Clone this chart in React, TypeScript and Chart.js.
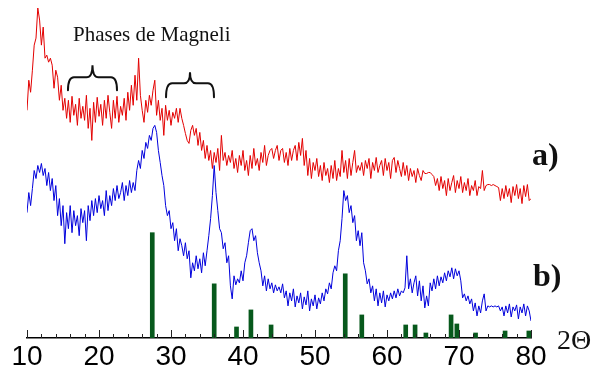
import React, { useEffect, useRef } from 'react';
import { Chart, registerables } from 'chart.js';

Chart.register(...registerables);

// Scan grid (2θ, degrees)
const scanStart = 10;
const scanStep = 0.25;

// a) red pattern, arbitrary intensity units (one value per scan step)
const intensityA = [
  227, 257, 245, 267, 292, 299, 329, 317, 292, 310, 279, 282, 275, 279, 272, 249, 267, 260, 237, 252,
  227, 239, 219, 237, 215, 241, 222, 233, 212, 239, 219, 231, 217, 242, 209, 229, 197, 235, 215, 240,
  221, 233, 212, 237, 219, 242, 225, 209, 237, 219, 241, 215, 231, 222, 239, 217, 245, 227, 252, 232,
  262, 237, 279, 242, 227, 215, 237, 225, 242, 232, 247, 257, 222, 237, 217, 229, 202, 232, 217, 227,
  212, 225, 219, 229, 215, 229, 219, 212, 204, 197, 194, 207, 212, 202, 209, 192, 205, 187, 197, 179,
  192, 177, 187, 169, 185, 175, 189, 167, 202, 177, 185, 172, 182, 175, 187, 169, 179, 165, 182, 172,
  187, 167, 177, 162, 182, 169, 189, 172, 179, 167, 185, 175, 192, 172, 182, 187, 189, 179, 187, 192,
  177, 187, 189, 175, 185, 172, 189, 177, 187, 192, 177, 195, 182, 199, 172, 187, 162, 179, 159, 175,
  167, 179, 161, 172, 157, 175, 162, 169, 155, 172, 159, 177, 157, 169, 161, 187, 165, 177, 159, 179,
  162, 175, 187, 165, 172, 167, 175, 162, 177, 169, 179, 159, 175, 167, 180, 165, 172, 177, 162, 179,
  167, 175, 159, 177, 180, 165, 177, 169, 161, 175, 162, 172, 157, 169, 161, 167, 155, 169, 162, 157,
  167, 164, 164, 165, 165, 163, 161, 152, 159, 147, 161, 149, 157, 142, 159, 147, 155, 162, 145, 157,
  149, 161, 145, 155, 147, 159, 142, 152, 147, 157, 142, 151, 149, 167, 147, 152, 153, 153, 152, 153,
  152, 151, 150, 137, 149, 139, 152, 141, 149, 135, 151, 142, 153, 139, 149, 134, 152, 141, 153, 137,
  139,
];

// b) blue pattern
const intensityB = [
  125, 145, 132, 149, 167, 159, 172, 165, 174, 162, 169, 152, 165, 147, 159, 137, 152, 122, 139, 112,
  132, 94, 125, 109, 132, 105, 127, 112, 122, 102, 129, 115, 127, 97, 132, 117, 137, 122, 139, 125,
  142, 129, 137, 122, 147, 127, 142, 132, 149, 137, 152, 139, 145, 155, 137, 152, 142, 157, 145, 155,
  147, 167, 177, 169, 187, 179, 195, 189, 202, 197, 209, 212, 205, 187, 175, 162, 152, 132, 122, 127,
  109, 115, 97, 109, 87, 99, 92, 82, 95, 79, 87, 60, 75, 67, 82, 69, 79, 65, 85, 72,
  87, 102, 119, 142, 172, 145, 127, 109, 105, 89, 95, 75, 82, 52, 39, 62, 53, 59, 55, 67,
  57, 75, 82, 95, 107, 109, 97, 102, 85, 75, 67, 52, 62, 47, 59, 49, 55, 45, 53, 47,
  51, 45, 54, 40, 47, 32, 45, 37, 49, 31, 42, 35, 45, 29, 41, 33, 47, 27, 39, 32,
  43, 29, 40, 34, 45, 37, 49, 44, 55, 49, 65, 72, 67, 87, 97, 119, 147, 137, 142, 125,
  132, 115, 122, 97, 107, 92, 105, 75, 67, 54, 59, 45, 52, 37, 49, 32, 45, 35, 47, 31,
  43, 37, 45, 39, 47, 40, 49, 42, 47, 45, 50, 82, 49, 59, 45, 55, 62, 42, 57, 37,
  52, 30, 42, 32, 55, 47, 59, 49, 62, 52, 61, 55, 65, 57, 67, 61, 70, 59, 69, 62,
  67, 57, 40, 44, 37, 42, 34, 39, 27, 35, 22, 32, 25, 37, 44, 27, 32, 31, 32, 31,
  32, 31, 32, 27, 31, 22, 32, 25, 34, 21, 31, 27, 33, 19, 31, 25, 34, 22, 32, 27,
  17,
];

// Reference (green) peak positions and relative heights
const refPeaks = [27.4, 36.0, 39.1, 41.1, 43.9, 54.2, 56.5, 62.6, 63.9, 65.4, 68.9, 69.7, 72.3, 76.4, 79.7];
const refHeights = [105, 54, 11, 28, 13, 64, 23, 13, 13, 5, 23, 14, 5, 7, 7];

// Axis
const xMin = 10;
const xMax = 80;
const yMax = 337;
const majorTicks = [10, 20, 30, 40, 50, 60, 70, 80];
const minorStep = 2;

// Annotations
const annotTitle = 'Phases de Magneli';
const labelA = 'a)';
const labelB = 'b)';
const axisTitle = '2\u0398';
const braces = [
  { from: 15.69, to: 22.5, end: 247, bar: 260, tip: 272 },
  { from: 29.31, to: 35.97, end: 240, bar: 254, tip: 265 },
];

const SERIF = '"Liberation Serif", "Times New Roman", Times, serif';
const SANS = '"Liberation Sans", Arial, Helvetica, sans-serif';

const decorPlugin = {
  id: 'decor',
  afterDraw(chart: any) {
    const { ctx, chartArea } = chart;
    const x = chart.scales.x;
    const y = chart.scales.y;
    ctx.save();
    // inward tick marks
    ctx.strokeStyle = '#222';
    ctx.lineWidth = 1;
    for (let v = xMin; v <= xMax + 1e-9; v += minorStep) {
      const px = Math.round(x.getPixelForValue(v)) + 0.5;
      const len = Math.abs(v % 10) < 1e-9 ? 8 : 4;
      ctx.beginPath();
      ctx.moveTo(px, chartArea.bottom);
      ctx.lineTo(px, chartArea.bottom - len);
      ctx.stroke();
    }
    // braces
    ctx.strokeStyle = '#111';
    ctx.lineWidth = 2;
    ctx.lineCap = 'round';
    for (const b of braces) {
      const xl = x.getPixelForValue(b.from);
      const xr = x.getPixelForValue(b.to);
      const xm = (xl + xr) / 2;
      const ye = y.getPixelForValue(b.end);
      const yb = y.getPixelForValue(b.bar);
      const yt = y.getPixelForValue(b.tip);
      const r = 6;
      ctx.beginPath();
      ctx.moveTo(xl, ye);
      ctx.quadraticCurveTo(xl, yb, xl + r, yb);
      ctx.lineTo(xm - r, yb);
      ctx.quadraticCurveTo(xm, yb, xm, yt);
      ctx.quadraticCurveTo(xm, yb, xm + r, yb);
      ctx.lineTo(xr - r, yb);
      ctx.quadraticCurveTo(xr, yb, xr, ye);
      ctx.stroke();
    }
    // texts
    ctx.fillStyle = '#111';
    ctx.textBaseline = 'alphabetic';
    ctx.textAlign = 'left';
    ctx.font = `21px ${SERIF}`;
    ctx.fillText(annotTitle, x.getPixelForValue(16.39), y.getPixelForValue(296));
    ctx.font = `bold 32px ${SERIF}`;
    ctx.fillText(labelA, x.getPixelForValue(80.14), y.getPixelForValue(172));
    ctx.fillText(labelB, x.getPixelForValue(80.28), y.getPixelForValue(52));
    ctx.font = `28px ${SERIF}`;
    ctx.fillText(axisTitle, x.getPixelForValue(83.6), y.getPixelForValue(-11));
    ctx.restore();
  },
};

export default function App() {
  const ref = useRef<HTMLCanvasElement | null>(null);

  useEffect(() => {
    if (!ref.current) return;
    const ptsA = intensityA.map((v, i) => ({ x: scanStart + i * scanStep, y: v }));
    const ptsB = intensityB.map((v, i) => ({ x: scanStart + i * scanStep, y: v }));
    const bars = refPeaks.map((p, i) => ({ x: p, y: refHeights[i] }));

    const chart = new Chart(ref.current, {
      type: 'line',
      data: {
        datasets: [
          {
            type: 'line',
            data: ptsA,
            borderColor: '#e30000',
            borderWidth: 1,
            pointRadius: 0,
            tension: 0,
          },
          {
            type: 'line',
            data: ptsB,
            borderColor: '#0000dc',
            borderWidth: 1,
            pointRadius: 0,
            tension: 0,
          },
          {
            type: 'bar',
            data: bars,
            backgroundColor: '#07591c',
            borderWidth: 0,
            barThickness: 4,
          } as any,
        ],
      },
      options: {
        responsive: false,
        animation: false,
        events: [],
        layout: { padding: { left: 27, right: 61, top: 0, bottom: -5 } },
        plugins: { legend: { display: false }, tooltip: { enabled: false }, title: { display: false } },
        scales: {
          x: {
            type: 'linear',
            min: xMin,
            max: xMax,
            offset: false,
            grid: { display: false, drawTicks: false },
            border: { display: true, color: '#000', width: 1.5 },
            afterBuildTicks: (scale: any) => {
              scale.ticks = majorTicks.map((v) => ({ value: v }));
            },
            ticks: {
              padding: 5,
              color: '#000',
              autoSkip: false,
              maxRotation: 0,
              font: { size: 28, family: SANS, lineHeight: 1 },
              callback: (v: any) => String(v),
            },
          },
          y: { type: 'linear', min: 0, max: yMax, display: false },
        },
      },
      plugins: [decorPlugin],
    });
    return () => chart.destroy();
  }, []);

  return (
    <div style={{ position: 'fixed', left: 0, top: 0, width: 592, height: 371, background: '#fff' }}>
      <canvas ref={ref} width={592} height={371} style={{ width: 592, height: 371, display: 'block' }} />
    </div>
  );
}
